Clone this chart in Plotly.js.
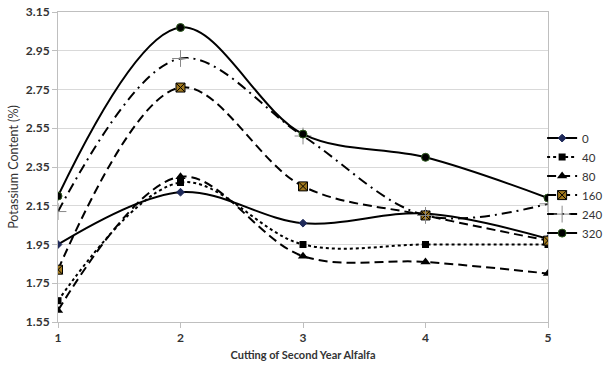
<!DOCTYPE html>
<html><head><meta charset="utf-8">
<script src="https://cdn.plot.ly/plotly-3.0.1.min.js"></script>
<style>html,body{margin:0;padding:0;background:#fff}#chart{width:605px;height:368px}</style>
</head><body><div id="chart"></div>
<script>
const cuttings = [1, 2, 3, 4, 5];
const rate0   = [1.95, 2.22, 2.06, 2.11, 1.98];
const rate40  = [1.66, 2.27, 1.95, 1.95, 1.95];
const rate80  = [1.61, 2.30, 1.89, 1.86, 1.80];
const rate160 = [1.82, 2.76, 2.25, 2.10, 1.97];
const rate240 = [2.12, 2.91, 2.51, 2.10, 2.16];
const rate320 = [2.20, 3.07, 2.52, 2.40, 2.19];
const seriesNames = ['0', '40', '80', '160', '240', '320'];
const yTicks = [1.55, 1.75, 1.95, 2.15, 2.35, 2.55, 2.75, 2.95, 3.15];

const styles = [
  {dash: 'solid', w: 2, m: {symbol: 'diamond', size: 6, color: '#1f2a5a', line: {color: '#1f2a5a', width: 1}}},
  {dash: 'dot', w: 2, m: {symbol: 'square', size: 7, color: '#000', line: {color: '#000', width: 0}}},
  {dash: '9px,5px', w: 2, m: {symbol: 'triangle-up', size: 9, color: '#000', line: {color: '#000', width: 0}}},
  {dash: '9px,5px', w: 2, m: {symbol: 'square-x', size: 9, color: '#a0781e', line: {color: '#000', width: 1}}},
  {dash: '10px,5px,2px,5px', w: 2, m: {symbol: 'cross-thin', size: 12, color: '#888', line: {color: '#888', width: 1}}},
  {dash: 'solid', w: 2, m: {symbol: 'circle', size: 8, color: '#000', line: {color: '#2d5a1e', width: 1}}}
];
const data = [rate0, rate40, rate80, rate160, rate240, rate320];
const traces = data.map((y, i) => ({
  x: cuttings, y: y, name: seriesNames[i], type: 'scatter', mode: 'lines+markers',
  line: {shape: 'spline', smoothing: 1, color: '#000', width: styles[i].w, dash: styles[i].dash},
  marker: styles[i].m
}));

const layout = {
  width: 605, height: 368,
  margin: {l: 58, r: 57, t: 12, b: 46, autoexpand: false},
  paper_bgcolor: '#fff', plot_bgcolor: '#fff',
  font: {family: 'Lato, "Open Sans", sans-serif', color: '#333', size: 12},
  showlegend: true,
  legend: {x: 0.988, xanchor: 'left', y: 0.44, yanchor: 'middle', font: {size: 11.5, color: '#333'},
           tracegroupgap: 0, itemwidth: 30, bgcolor: 'rgba(0,0,0,0)'},
  xaxis: {
    range: [1, 5], tickvals: cuttings, ticktext: cuttings.map(String),
    showgrid: false, zeroline: false, showline: true, linecolor: '#bfbfbf', linewidth: 1, mirror: true,
    ticks: 'outside', ticklen: 5, tickcolor: '#bfbfbf',
    tickfont: {size: 12, color: '#333', family: 'Lato, sans-serif', weight: 'bold'},
    title: {text: '<b>Cutting of Second Year Alfalfa</b>', font: {size: 11, color: '#333'}, standoff: 6}
  },
  yaxis: {
    range: [1.55, 3.15], tickvals: yTicks, ticktext: yTicks.map(v => v.toFixed(2)),
    showgrid: true, gridcolor: '#d9d9d9', gridwidth: 1, zeroline: false,
    showline: true, linecolor: '#bfbfbf', linewidth: 1, mirror: true,
    ticks: 'outside', ticklen: 5, tickcolor: '#bfbfbf',
    tickfont: {size: 12, color: '#333', family: 'Lato, sans-serif', weight: 'bold'},
    title: {text: 'Potassium Content (%)', font: {size: 12.5, color: '#333'}, standoff: 4}
  }
};
Plotly.newPlot('chart', traces, layout, {displayModeBar: false, staticPlot: true});
</script></body></html>
